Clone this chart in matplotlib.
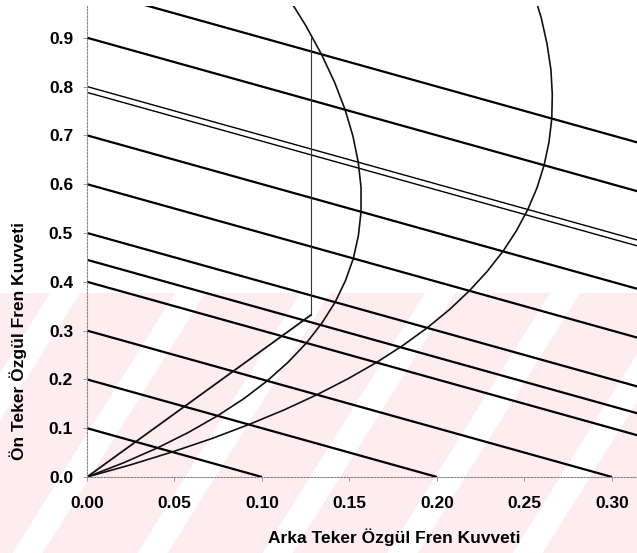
import matplotlib
matplotlib.use("Agg")
import matplotlib.pyplot as plt
from matplotlib.patches import Rectangle, Polygon

plt.rcParams['font.family'] = ['Liberation Sans', 'DejaVu Sans']

# constant deceleration lines: front + rear = z
z_levels = [0.1, 0.2, 0.3, 0.4, 0.445, 0.5, 0.6, 0.7, 0.9, 1.0]
z_double = [0.788, 0.80]

# ideal distribution curve 1 (left)
left_rear = [0.0, 0.0209, 0.0403, 0.0582, 0.0746, 0.0896, 0.1030, 0.1149, 0.1254,
             0.1343, 0.1418, 0.1477, 0.1522, 0.1551, 0.1566, 0.1566, 0.1550, 0.1520,
             0.1475, 0.1415, 0.1340, 0.1250, 0.1145]
left_front = [0.0, 0.0291, 0.0597, 0.0918, 0.1254, 0.1604, 0.1970, 0.2351, 0.2746,
              0.3157, 0.3582, 0.4023, 0.4478, 0.4949, 0.5434, 0.5934, 0.6450, 0.6980,
              0.7525, 0.8085, 0.8660, 0.9250, 0.9855]

# ideal distribution curve 2 (right)
right_rear = [0.0, 0.0250, 0.0487, 0.0713, 0.0925, 0.1126, 0.1314, 0.1490, 0.1654,
              0.1805, 0.1944, 0.2071, 0.2185, 0.2287, 0.2377, 0.2454, 0.2519, 0.2572,
              0.2612, 0.2640, 0.2656, 0.2659, 0.2651, 0.2629, 0.2596, 0.2550]
right_front = [0.0, 0.0250, 0.0513, 0.0787, 0.1075, 0.1374, 0.1686, 0.2010, 0.2346,
               0.2695, 0.3056, 0.3429, 0.3815, 0.4213, 0.4623, 0.5046, 0.5481, 0.5928,
               0.6388, 0.6860, 0.7344, 0.7841, 0.8349, 0.8871, 0.9404, 0.9950]

# installed distribution (with limiting valve)
inst_rear = [0.0, 0.128, 0.128]
inst_front = [0.0, 0.332, 0.90]

x_ticks = [0.00, 0.05, 0.10, 0.15, 0.20, 0.25, 0.30]
y_ticks = [0.0, 0.1, 0.2, 0.3, 0.4, 0.5, 0.6, 0.7, 0.8, 0.9]

W, H = 637, 553
fig = plt.figure(figsize=(W / 100, H / 100), dpi=100)
fig.patch.set_facecolor('white')

# faint watermark stripes in the lower part
pink = '#fdedf0'
top_px = 293
fig.add_artist(Rectangle((0, 0), 1, 1 - top_px / H, transform=fig.transFigure,
                         facecolor=pink, edgecolor='none', zorder=0))
slope = 1.6
for cx in range(-310, 700, 125):
    h = H - top_px
    pts = [(cx - 15, top_px), (cx + 15, top_px),
           (cx + 15 - h / slope, H), (cx - 15 - h / slope, H)]
    pts = [(px / W, 1 - py / H) for px, py in pts]
    fig.add_artist(Polygon(pts, closed=True, transform=fig.transFigure,
                           facecolor='white', edgecolor='none', zorder=0))

ax = fig.add_axes([87 / W, (H - 477) / H, 550 / W, (477 - 6) / H])
ax.set_facecolor('none')

for z in z_levels:
    ax.plot([0, z], [z, 0], color='black', lw=1.6, solid_capstyle='butt')
for z in z_double:
    ax.plot([0, z], [z, 0], color='black', lw=1.0)

ax.plot(left_rear, left_front, color='#111111', lw=1.2)
ax.plot(right_rear, right_front, color='#111111', lw=1.2)
ax.plot(inst_rear[:2], inst_front[:2], color='#111111', lw=1.3)
ax.plot(inst_rear[1:], inst_front[1:], color='#333333', lw=0.8)

ax.set_xlim(0, 0.3143)
ax.set_ylim(0, 0.965)
ax.set_xticks(x_ticks)
ax.set_xticklabels([f'{v:.2f}' for v in x_ticks])
ax.set_yticks(y_ticks)
ax.set_yticklabels([f'{v:.1f}' for v in y_ticks])

for side in ['top', 'right']:
    ax.spines[side].set_visible(False)
for side in ['left', 'bottom']:
    ax.spines[side].set_color('#888888')
    ax.spines[side].set_linewidth(0.8)
    ax.spines[side].set_linestyle((0, (1.5, 1.5)))

ax.tick_params(axis='both', colors='#888888', length=3, width=0.6, direction='out',
               labelcolor='black', labelsize=12.5)
ax.tick_params(axis='y', pad=7)
ax.tick_params(axis='x', pad=11)
for lab in ax.get_xticklabels() + ax.get_yticklabels():
    lab.set_fontweight('bold')

fig.text(394 / W, 1 - 537 / H, 'Arka Teker Özgül Fren Kuvveti', ha='center', va='center',
         fontsize=12.5, fontweight='bold')
fig.text(18 / W, 1 - 341 / H, 'Ön Teker Özgül Fren Kuvveti', ha='center', va='center',
         rotation=90, fontsize=12.5, fontweight='bold')

fig.savefig('out.png', dpi=100)
